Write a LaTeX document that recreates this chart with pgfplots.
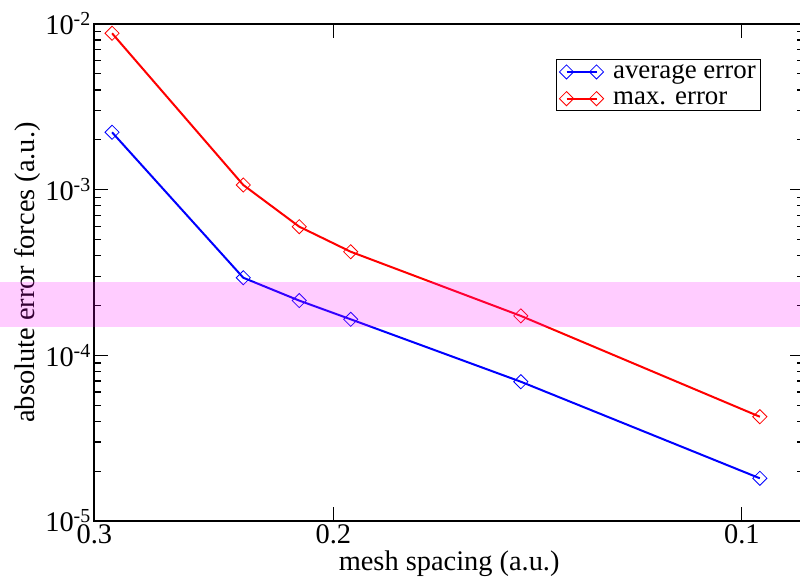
\documentclass[border=0pt]{standalone}
\usepackage{fontspec}
\setmainfont{Liberation Serif}
\usepackage{pgfplots}
\pgfplotsset{compat=1.18}
\definecolor{bandmag}{RGB}{255,0,255}
\definecolor{gblue}{RGB}{0,0,255}
\definecolor{gred}{RGB}{255,0,0}
\begin{document}
\begin{tikzpicture}
\begin{axis}[
  at={(0,0)}, anchor=south west,
  scale only axis, width=709.7bp, height=497bp,
  xmode=log, ymode=log, x dir=reverse,
  xmin=0.09, xmax=0.3, ymin=1e-5, ymax=1e-2,
  xtick={0.1,0.2,0.3}, xticklabels={0.1,0.2,0.3},
  ytick={1e-5,1e-4,1e-3,1e-2},
  yticklabels={10\textsuperscript{-5},10\textsuperscript{-4},10\textsuperscript{-3},10\textsuperscript{-2}},
  xminorticks=false,
  major tick length=14bp, minor tick length=7bp,
  tick style={black, line width=1.2bp},
  axis line style={line width=1.8bp},
  ticklabel style={font=\fontsize{28.5}{32}\selectfont},
  label style={font=\fontsize{28.5}{32}\selectfont},
  xlabel={mesh spacing (a.u.)}, ylabel={absolute error forces (a.u.)},
  ylabel style={yshift=-2bp},
  clip=false,
  set layers,
  legend style={at={(0.6505,0.929)}, anchor=north west, font=\fontsize{27}{27}\selectfont, draw=black, line width=1bp, inner sep=3bp, row sep=9bp,
    nodes={inner sep=1.5bp},
    /tikz/every odd column/.append style={column sep=8bp}},
  legend cell align=left,
  legend image code/.code={\draw[#1] plot coordinates {(0bp,0bp) (30bp,0bp)};},
]
\addplot[draw=none, fill=bandmag, fill opacity=0.2, on layer=axis foreground, forget plot]
  coordinates {(0.4,1.49e-4) (0.08,1.49e-4) (0.08,2.79e-4) (0.4,2.79e-4)};
\addplot[gblue, line width=2bp, mark=square, mark size=5bp, mark options={rotate=45, line width=0.8bp, solid}]
  coordinates {(0.2911,2.22e-3) (0.2330,2.94e-4) (0.2119,2.14e-4) (0.1942,1.65e-4) (0.1455,6.93e-5) (0.0970,1.81e-5)};
\addlegendentry{average error}
\addplot[gred, line width=2bp, mark=square, mark size=5bp, mark options={rotate=45, line width=0.8bp, solid}]
  coordinates {(0.2911,8.79e-3) (0.2330,1.067e-3) (0.2119,5.98e-4) (0.1942,4.22e-4) (0.1455,1.73e-4) (0.0970,4.26e-5)};
\addlegendentry{max. error}
\end{axis}
\pgfresetboundingbox
\path[use as bounding box] (-94.3bp,-57bp) rectangle (705.7bp,521bp);
\end{tikzpicture}
\end{document}
